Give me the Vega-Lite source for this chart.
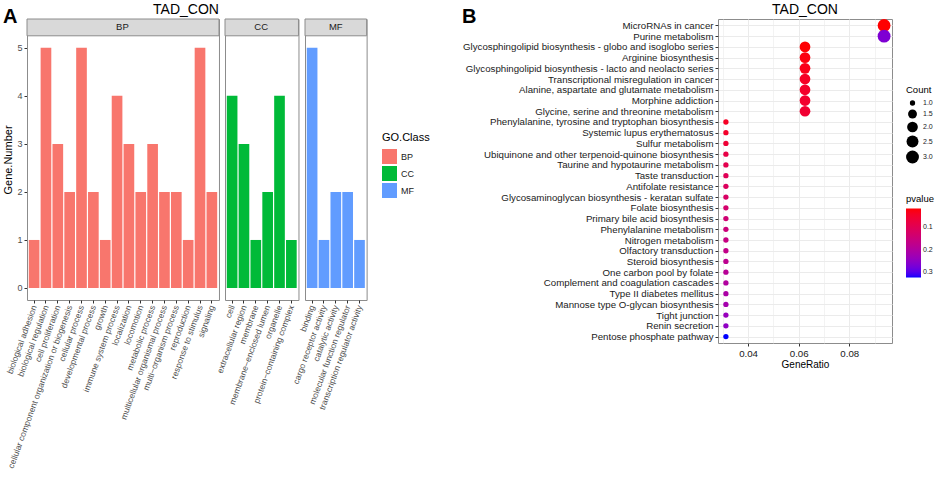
{
  "$schema": "https://vega.github.io/schema/vega-lite/v6.json",
  "background": "white",
  "padding": {"left": 2, "top": 2, "right": 2, "bottom": 2},
  "config": {
    "font": "Liberation Sans",
    "title": {"font": "Liberation Sans", "color": "#000000"},
    "view": {"stroke": "#8c8c8c", "strokeWidth": 1},
    "axis": {"domain": false, "tickColor": "#333333", "tickSize": 3, "labelPadding": 2, "labelColor": "#4d4d4d", "titleColor": "#000000", "titleFontWeight": "normal", "titleFont": "Liberation Sans", "labelFont": "Liberation Sans"},
    "legend": {"titleFontWeight": "normal", "titleColor": "#000000", "labelColor": "#1a1a1a", "titleFont": "Liberation Sans", "labelFont": "Liberation Sans"}
  },
  "datasets": {
    "go": [
      {"Class": "BP", "Term": "biological adhesion", "Genes": 1},
      {"Class": "BP", "Term": "biological regulation", "Genes": 5},
      {"Class": "BP", "Term": "cell proliferation", "Genes": 3},
      {"Class": "BP", "Term": "cellular component organization or biogenesis", "Genes": 2},
      {"Class": "BP", "Term": "cellular process", "Genes": 5},
      {"Class": "BP", "Term": "developmental process", "Genes": 2},
      {"Class": "BP", "Term": "growth", "Genes": 1},
      {"Class": "BP", "Term": "immune system process", "Genes": 4},
      {"Class": "BP", "Term": "localization", "Genes": 3},
      {"Class": "BP", "Term": "locomotion", "Genes": 2},
      {"Class": "BP", "Term": "metabolic process", "Genes": 3},
      {"Class": "BP", "Term": "multicellular organismal process", "Genes": 2},
      {"Class": "BP", "Term": "multi−organism process", "Genes": 2},
      {"Class": "BP", "Term": "reproduction", "Genes": 1},
      {"Class": "BP", "Term": "response to stimulus", "Genes": 5},
      {"Class": "BP", "Term": "signaling", "Genes": 2},
      {"Class": "CC", "Term": "cell", "Genes": 4},
      {"Class": "CC", "Term": "extracellular region", "Genes": 3},
      {"Class": "CC", "Term": "membrane", "Genes": 1},
      {"Class": "CC", "Term": "membrane−enclosed lumen", "Genes": 2},
      {"Class": "CC", "Term": "organelle", "Genes": 4},
      {"Class": "CC", "Term": "protein−containing complex", "Genes": 1},
      {"Class": "MF", "Term": "binding", "Genes": 5},
      {"Class": "MF", "Term": "cargo receptor activity", "Genes": 1},
      {"Class": "MF", "Term": "catalytic activity", "Genes": 2},
      {"Class": "MF", "Term": "molecular function regulator", "Genes": 2},
      {"Class": "MF", "Term": "transcription regulator activity", "Genes": 1}
    ],
    "kegg": [
      {"Description": "MicroRNAs in cancer", "GeneRatio": 0.09375, "Count": 3, "pvalue": 0.014},
      {"Description": "Purine metabolism", "GeneRatio": 0.09375, "Count": 3, "pvalue": 0.27},
      {"Description": "Glycosphingolipid biosynthesis - globo and isoglobo series", "GeneRatio": 0.0625, "Count": 2, "pvalue": 0.016},
      {"Description": "Arginine biosynthesis", "GeneRatio": 0.0625, "Count": 2, "pvalue": 0.022},
      {"Description": "Glycosphingolipid biosynthesis - lacto and neolacto series", "GeneRatio": 0.0625, "Count": 2, "pvalue": 0.03},
      {"Description": "Transcriptional misregulation in cancer", "GeneRatio": 0.0625, "Count": 2, "pvalue": 0.04},
      {"Description": "Alanine, aspartate and glutamate metabolism", "GeneRatio": 0.0625, "Count": 2, "pvalue": 0.045},
      {"Description": "Morphine addiction", "GeneRatio": 0.0625, "Count": 2, "pvalue": 0.05},
      {"Description": "Glycine, serine and threonine metabolism", "GeneRatio": 0.0625, "Count": 2, "pvalue": 0.055},
      {"Description": "Phenylalanine, tyrosine and tryptophan biosynthesis", "GeneRatio": 0.03125, "Count": 1, "pvalue": 0.04},
      {"Description": "Systemic lupus erythematosus", "GeneRatio": 0.03125, "Count": 1, "pvalue": 0.045},
      {"Description": "Sulfur metabolism", "GeneRatio": 0.03125, "Count": 1, "pvalue": 0.06},
      {"Description": "Ubiquinone and other terpenoid-quinone biosynthesis", "GeneRatio": 0.03125, "Count": 1, "pvalue": 0.08},
      {"Description": "Taurine and hypotaurine metabolism", "GeneRatio": 0.03125, "Count": 1, "pvalue": 0.09},
      {"Description": "Taste transduction", "GeneRatio": 0.03125, "Count": 1, "pvalue": 0.1},
      {"Description": "Antifolate resistance", "GeneRatio": 0.03125, "Count": 1, "pvalue": 0.11},
      {"Description": "Glycosaminoglycan biosynthesis - keratan sulfate", "GeneRatio": 0.03125, "Count": 1, "pvalue": 0.12},
      {"Description": "Folate biosynthesis", "GeneRatio": 0.03125, "Count": 1, "pvalue": 0.13},
      {"Description": "Primary bile acid biosynthesis", "GeneRatio": 0.03125, "Count": 1, "pvalue": 0.14},
      {"Description": "Phenylalanine metabolism", "GeneRatio": 0.03125, "Count": 1, "pvalue": 0.15},
      {"Description": "Nitrogen metabolism", "GeneRatio": 0.03125, "Count": 1, "pvalue": 0.16},
      {"Description": "Olfactory transduction", "GeneRatio": 0.03125, "Count": 1, "pvalue": 0.17},
      {"Description": "Steroid biosynthesis", "GeneRatio": 0.03125, "Count": 1, "pvalue": 0.18},
      {"Description": "One carbon pool by folate", "GeneRatio": 0.03125, "Count": 1, "pvalue": 0.19},
      {"Description": "Complement and coagulation cascades", "GeneRatio": 0.03125, "Count": 1, "pvalue": 0.2},
      {"Description": "Type II diabetes mellitus", "GeneRatio": 0.03125, "Count": 1, "pvalue": 0.21},
      {"Description": "Mannose type O-glycan biosynthesis", "GeneRatio": 0.03125, "Count": 1, "pvalue": 0.22},
      {"Description": "Tight junction", "GeneRatio": 0.03125, "Count": 1, "pvalue": 0.24},
      {"Description": "Renin secretion", "GeneRatio": 0.03125, "Count": 1, "pvalue": 0.25},
      {"Description": "Pentose phosphate pathway", "GeneRatio": 0.03125, "Count": 1, "pvalue": 0.327}
    ]
  },
  "spacing": 32,
  "resolve": {"scale": {"color": "independent", "size": "independent"}, "legend": {"color": "independent", "size": "independent"}},
  "hconcat": [
    {
      "title": {"text": "A", "anchor": "start", "frame": "bounds", "fontSize": 20, "fontWeight": "bold", "dy": 24, "offset": 0},
      "data": {"name": "go"},
      "bounds": "flush",
      "facet": {
        "column": {
          "field": "Class", "type": "nominal", "title": "TAD_CON",
          "header": {"labels": false, "titleFontSize": 14, "titleFontWeight": "normal", "titleColor": "#000000", "titlePadding": -8, "titleFont": "Liberation Sans"}
        }
      },
      "spacing": {"column": 6},
      "resolve": {"scale": {"x": "independent"}},
      "spec": {
        "width": {"step": 11.85},
        "height": 281,
        "layer": [
          {
            "transform": [{"aggregate": [{"op": "count", "as": "n"}], "groupby": ["Class"]}],
            "mark": {"type": "rect", "fill": "#d9d9d9", "stroke": "#8c8c8c", "strokeWidth": 1},
            "encoding": {"x": {"value": 0}, "x2": {"value": "width"}, "y": {"datum": 5.25}, "y2": {"datum": 5.6}}
          },
          {
            "mark": {"type": "bar"},
            "encoding": {
              "x": {"field": "Term", "type": "nominal", "sort": null, "scale": {"paddingInner": 0.1, "paddingOuter": 0.15},
                "axis": {"title": null, "labelAngle": -70, "labelAlign": "right", "labelBaseline": "middle", "labelFontSize": 8.5, "labelLimit": 400, "labelPadding": 2}},
              "y": {"field": "Genes", "type": "quantitative", "scale": {"domain": [-0.25, 5.6], "nice": false, "zero": false},
                "axis": {"title": "Gene.Number", "values": [0, 1, 2, 3, 4, 5], "grid": false, "labelFontSize": 9, "titleFontSize": 11, "titlePadding": 3}},
              "color": {"field": "Class", "type": "nominal", "scale": {"domain": ["BP", "CC", "MF"], "range": ["#F8766D", "#00BA38", "#619CFF"]},
                "legend": {"title": "GO.Class", "orient": "none", "legendX": 355, "legendY": 113, "symbolType": "square", "symbolSize": 225, "symbolStrokeWidth": 0, "titleFontSize": 11, "labelFontSize": 9, "rowPadding": 2, "titlePadding": 6}}
            }
          },
          {
            "transform": [{"filter": "datum.Term === 'immune system process' || datum.Term === 'membrane'"}],
            "mark": {"type": "text", "fontSize": 9.5, "color": "#1a1a1a", "baseline": "middle", "align": "center"},
            "encoding": {
              "x": {"field": "Term", "type": "nominal", "sort": null, "bandPosition": 1, "scale": {"paddingInner": 0.1, "paddingOuter": 0.15}},
              "y": {"datum": 5.425},
              "text": {"field": "Class", "type": "nominal"}
            }
          },
          {
            "transform": [{"filter": "datum.Term === 'catalytic activity'"}],
            "mark": {"type": "text", "fontSize": 9.5, "color": "#1a1a1a", "baseline": "middle", "align": "center"},
            "encoding": {
              "x": {"field": "Term", "type": "nominal", "sort": null, "bandPosition": 0.5, "scale": {"paddingInner": 0.1, "paddingOuter": 0.15}},
              "y": {"datum": 5.425},
              "text": {"field": "Class", "type": "nominal"}
            }
          }
        ]
      }
    },
    {
      "title": {"text": "B", "anchor": "start", "frame": "bounds", "fontSize": 20, "fontWeight": "bold", "dy": 24, "offset": 0},
      "hconcat": [
        {
          "title": {"text": "TAD_CON", "fontSize": 14, "fontWeight": "normal", "anchor": "middle", "offset": 2},
          "data": {"name": "kegg"},
          "width": 174,
          "height": 324,
          "resolve": {"axis": {"x": "independent"}},
          "layer": [
            {
              "mark": {"type": "point", "opacity": 0},
              "encoding": {
                "x": {"field": "GeneRatio", "type": "quantitative", "scale": {"domain": [0.028125, 0.096875], "nice": false, "zero": false},
                  "axis": {"orient": "top", "values": [0.03, 0.05, 0.07, 0.09], "grid": true, "gridColor": "#ebebeb", "gridWidth": 0.6, "labels": false, "ticks": false, "title": null}}
              }
            },
            {
              "mark": {"type": "circle", "opacity": 1},
              "encoding": {
                "x": {"field": "GeneRatio", "type": "quantitative", "scale": {"domain": [0.028125, 0.096875], "nice": false, "zero": false},
                  "axis": {"title": "GeneRatio", "values": [0.04, 0.06, 0.08], "format": ".2f", "grid": true, "gridColor": "#ebebeb", "gridWidth": 1, "labelFontSize": 9.7, "labelColor": "#1a1a1a", "titleFontSize": 10, "titlePadding": 2}},
                "y": {"field": "Description", "type": "nominal", "sort": null, "scale": {"padding": 0.6},
                  "axis": {"title": null, "grid": true, "gridColor": "#ebebeb", "gridWidth": 1, "labelFontSize": 9.7, "labelColor": "#1a1a1a", "labelLimit": 400}},
                "size": {"field": "Count", "type": "quantitative", "scale": {"type": "log", "domain": [1, 3], "range": [28, 165], "zero": false},
                  "legend": {"title": "Count", "orient": "none", "legendX": 188, "legendY": 66, "values": [1, 1.5, 2, 2.5, 3], "format": ".1f", "symbolFillColor": "#000000", "symbolStrokeWidth": 0, "titleFontSize": 9.5, "labelFontSize": 7, "rowPadding": 3}},
                "color": {"field": "pvalue", "type": "quantitative", "scale": {"domain": [0.327, 0.014], "range": ["#0000FF", "#FF0000"], "interpolate": "lab"},
                  "legend": {"title": "pvalue", "orient": "none", "legendX": 188, "legendY": 175, "values": [0.1, 0.2, 0.3], "gradientLength": 69, "gradientThickness": 15, "titleFontSize": 9.5, "labelFontSize": 7}}
              }
            }
          ]
        }
      ]
    }
  ]
}
